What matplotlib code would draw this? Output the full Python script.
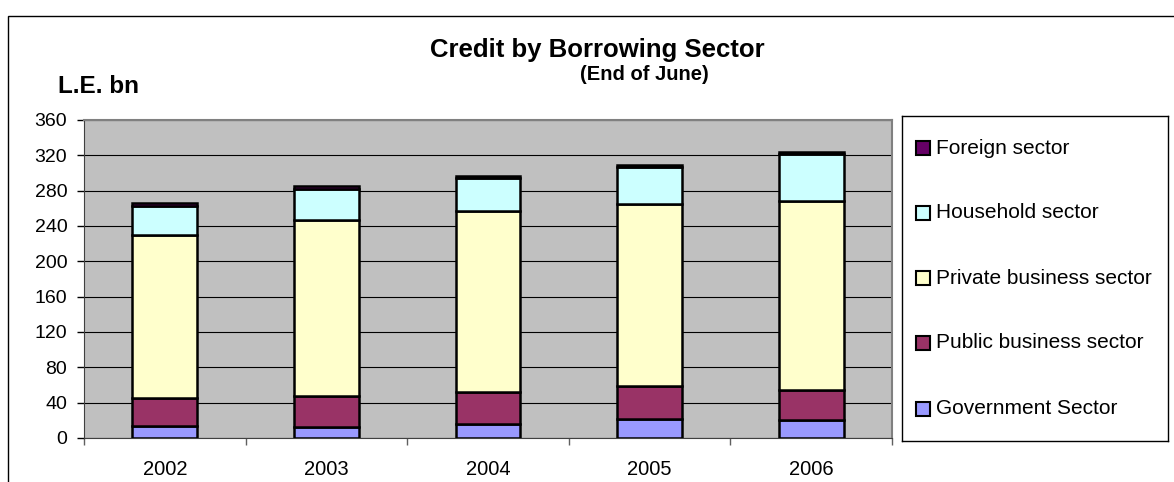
import matplotlib
matplotlib.use("Agg")
import matplotlib.pyplot as plt
from matplotlib.patches import Rectangle
import numpy as np

plt.rcParams['font.family'] = ['Liberation Sans', 'DejaVu Sans']

years = ["2002", "2003", "2004", "2005", "2006"]
government = [14, 13, 16, 22, 20]
public_business = [31, 35, 36, 37, 34]
private_business = [185, 199, 205, 206, 214]
household = [33, 35, 37, 42, 53]
foreign = [2.5, 3, 3, 1.5, 3]

series_names = ["Government Sector", "Public business sector",
                "Private business sector", "Household sector", "Foreign sector"]
series_values = [government, public_business, private_business, household, foreign]
series_colors = ["#9999FF", "#993366", "#FFFFCC", "#CCFFFF", "#660066"]

W, H = 1174, 482
fig = plt.figure(figsize=(W / 100, H / 100), dpi=100)

def fx(px):
    return px / W

def fy(py):
    return 1 - py / H

# outer chart frame (runs off the right and bottom edges)
fig.patches.append(Rectangle((fx(8), fy(500)), fx(1200) - fx(8), fy(16) - fy(500),
                             transform=fig.transFigure, fill=False,
                             edgecolor="black", linewidth=1.0))

ax = fig.add_axes([fx(84), fy(438), fx(892) - fx(84), fy(120) - fy(438)])
ax.set_facecolor("#C0C0C0")

x = np.arange(len(years))
bottom = np.zeros(len(years))
for name, vals, col in zip(series_names, series_values, series_colors):
    vals = np.array(vals, dtype=float)
    ax.bar(x, vals, width=0.4, bottom=bottom, color=col, edgecolor="black",
           linewidth=1.8, zorder=3, label=name)
    bottom += vals

ax.set_xlim(-0.5, len(years) - 0.5)
ax.set_ylim(0, 360)
ax.set_yticks(np.arange(0, 361, 40))
ax.yaxis.grid(True, color="black", linewidth=0.8, zorder=1)
ax.set_axisbelow(True)

ax.set_xticks(x)
ax.set_xticklabels(years, fontsize=14.5)
ax.set_xticks(np.arange(-0.5, len(years), 1.0), minor=True)
ax.tick_params(axis="x", which="major", length=0, pad=16)
ax.tick_params(axis="x", which="minor", length=5, color="#606060", width=1)
ax.tick_params(axis="y", length=5, width=1, labelsize=14, pad=7)

for side in ("top", "right"):
    ax.spines[side].set_color("#808080")
    ax.spines[side].set_linewidth(1.5)
ax.spines["left"].set_color("#404040")
ax.spines["bottom"].set_color("#404040")

fig.text(fx(597), fy(57), "Credit by Borrowing Sector", ha="center", va="baseline",
         fontsize=18.5, fontweight="bold")
fig.text(fx(644), fy(80), "(End of June)", ha="center", va="baseline",
         fontsize=14.5, fontweight="bold")
fig.text(fx(58), fy(93), "L.E. bn", ha="left", va="baseline",
         fontsize=17.5, fontweight="bold")

# legend panel
lax = fig.add_axes([fx(902), fy(441), fx(1168) - fx(902), fy(116) - fy(441)])
lax.set_xlim(902, 1168)
lax.set_ylim(441, 116)
lax.set_xticks([])
lax.set_yticks([])
for s in lax.spines.values():
    s.set_linewidth(1.0)
    s.set_color("black")
entry_y = [409, 343, 278, 213, 148]
for name, col, yy in zip(series_names, series_colors, entry_y):
    lax.add_patch(Rectangle((916, yy - 7), 14, 14, facecolor=col,
                            edgecolor="black", linewidth=1.5))
    lax.text(936, yy, name, ha="left", va="center", fontsize=15)

fig.savefig("out.png", dpi=100)
